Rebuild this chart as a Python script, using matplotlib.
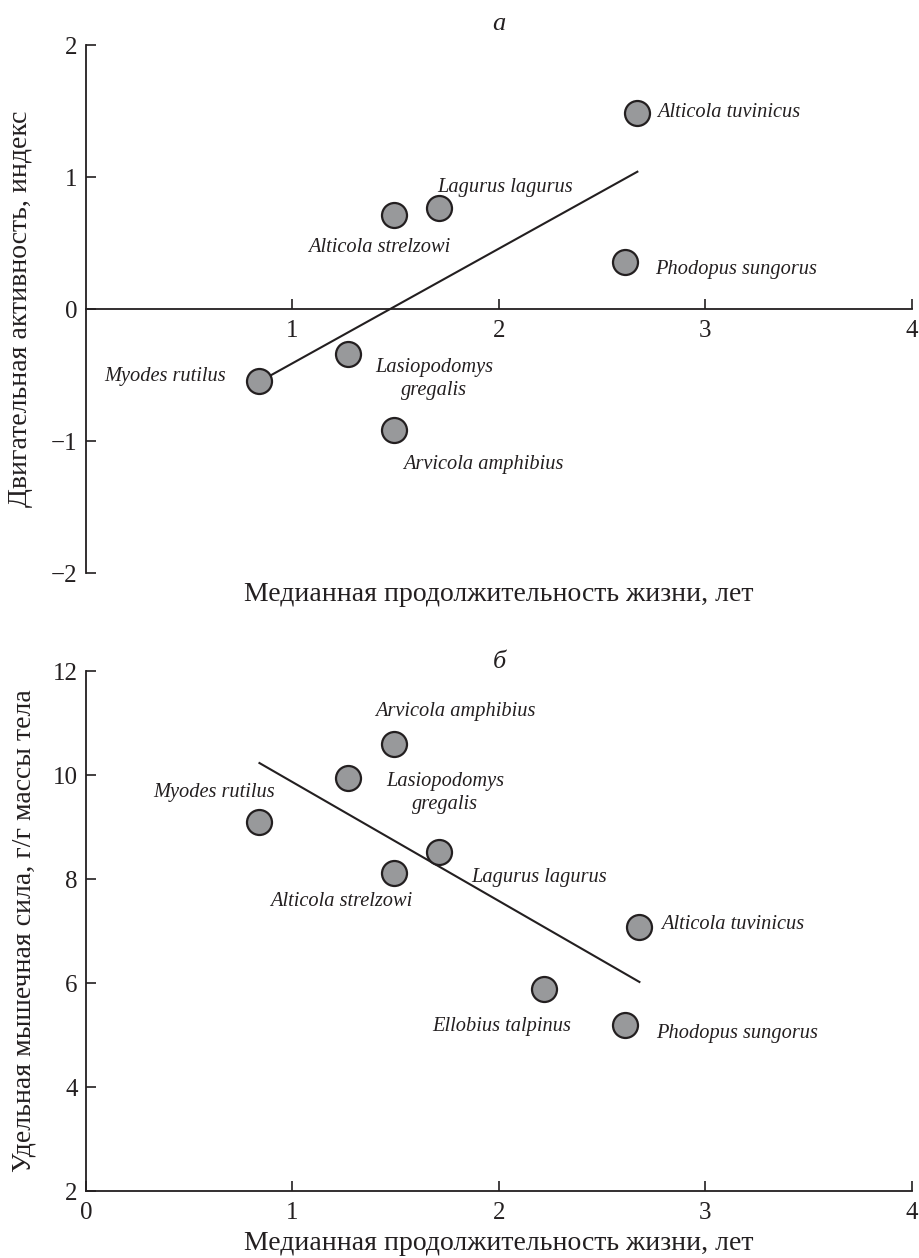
import numpy as np
import matplotlib.pyplot as plt

plt.rcParams['font.family'] = ['Liberation Serif', 'DejaVu Serif']
plt.rcParams['axes.unicode_minus'] = True

# ---- panel a: motor activity index vs median lifespan ----
species_a = ['Alticola strelzowi', 'Lagurus lagurus', 'Alticola tuvinicus',
             'Phodopus sungorus', 'Myodes rutilus', 'Lasiopodomys\ngregalis',
             'Arvicola amphibius']
life_a = [1.49, 1.71, 2.67, 2.61, 0.84, 1.27, 1.49]
activity_a = [0.71, 0.765, 1.485, 0.355, -0.545, -0.34, -0.92]
fit_a_x = [0.84, 2.67]
fit_a_y = [-0.55, 1.04]

# ---- panel b: specific muscle strength vs median lifespan ----
species_b = ['Arvicola amphibius', 'Lasiopodomys\ngregalis', 'Myodes rutilus',
             'Alticola strelzowi', 'Lagurus lagurus', 'Alticola tuvinicus',
             'Ellobius talpinus', 'Phodopus sungorus']
life_b = [1.49, 1.27, 0.84, 1.49, 1.71, 2.68, 2.22, 2.61]
strength_b = [10.6, 9.94, 9.1, 8.12, 8.52, 7.08, 5.88, 5.19]
fit_b_x = [0.84, 2.68]
fit_b_y = [10.23, 6.02]

# label offsets (pixels) and alignment for each species name
offs_a = [(-14, -32, 'center'), (-2, 21, 'left'), (20, 0, 'left'),
          (30, -7, 'left'), (-34, 4, 'right'), (86, -25, 'center'),
          (9, -34, 'left')]
offs_b = [(62, 32, 'center'), (97, -15, 'center'), (-45, 29, 'center'),
          (-52, -29, 'center'), (32, -26, 'left'), (22, 2, 'left'),
          (-43, -37, 'center'), (31, -8, 'left')]

ink = '#231f20'
dot = '#98999b'
xlab = 'Медианная продолжительность жизни, лет'
px = 0.72  # pixels -> points at 100 dpi

fig = plt.figure(figsize=(9.2, 12.58), dpi=100)
ax1 = fig.add_axes([86 / 920, 1 - 573 / 1258, 826 / 920, 528 / 1258])
ax2 = fig.add_axes([86 / 920, 1 - 1191 / 1258, 826 / 920, 520 / 1258])


def style(ax):
    for s in ['top', 'right']:
        ax.spines[s].set_visible(False)
    for s in ['left', 'bottom']:
        ax.spines[s].set_color(ink)
        ax.spines[s].set_linewidth(1.3)
    ax.tick_params(direction='in', length=7, width=1.2, color=ink,
                   labelsize=18, labelcolor=ink)
    ax.tick_params(axis='x', pad=8)
    ax.tick_params(axis='y', pad=6)


def draw(ax, xs, ys, names, offs, fx, fy):
    ax.plot(fx, fy, color=ink, lw=1.5, zorder=2)
    ax.plot(xs, ys, 'o', ms=18, mfc=dot, mec=ink, mew=1.6, zorder=3)
    for x, y, t, (dx, dy, ha) in zip(xs, ys, names, offs):
        ax.annotate(t, (x, y), xytext=(dx * px, dy * px),
                    textcoords='offset points', ha=ha, va='center',
                    fontsize=14.7, style='italic', color=ink,
                    multialignment='center', linespacing=1.3)


# panel a
style(ax1)
ax1.spines['bottom'].set_position(('data', 0))
draw(ax1, life_a, activity_a, species_a, offs_a, fit_a_x, fit_a_y)
ax1.set_xlim(0, 4)
ax1.set_ylim(-2, 2)
ax1.set_xticks([1, 2, 3, 4])
ax1.set_yticks([-2, -1, 0, 1, 2])
ax1.set_ylabel('Двигательная активность, индекс', fontsize=20, color=ink)
ax1.yaxis.set_label_coords(-0.064, 0.5)
ax1.text(0.5, -0.04, xlab, transform=ax1.transAxes, ha='center', va='center',
         fontsize=20, color=ink)
ax1.text(2.0, 2.16, 'a', ha='center', va='center', fontsize=19,
         style='italic', color=ink, clip_on=False)

# panel b
style(ax2)
draw(ax2, life_b, strength_b, species_b, offs_b, fit_b_x, fit_b_y)
ax2.set_xlim(0, 4)
ax2.set_ylim(2, 12)
ax2.set_xticks([0, 1, 2, 3, 4])
ax2.set_yticks([2, 4, 6, 8, 10, 12])
ax2.set_ylabel('Удельная мышечная сила, г/г массы тела', fontsize=20, color=ink)
ax2.yaxis.set_label_coords(-0.06, 0.5)
ax2.set_xlabel(xlab, fontsize=20, color=ink, labelpad=5)
ax2.text(2.0, 12.17, 'б', ha='center', va='center', fontsize=19,
         style='italic', color=ink, clip_on=False)

fig.savefig('out.png', dpi=100)
